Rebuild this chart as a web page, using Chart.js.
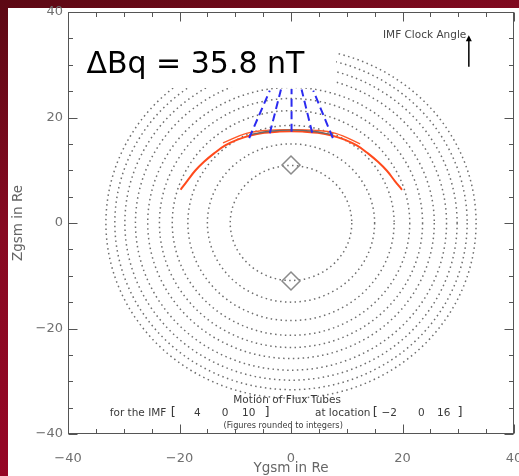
<!DOCTYPE html>
<html><head><meta charset="utf-8">
<script src="https://cdn.jsdelivr.net/npm/chart.js@4/dist/chart.umd.min.js"></script>
<style>
html,body{margin:0;padding:0;width:519px;height:476px;overflow:hidden}
body{background:linear-gradient(160deg,#5c0914 0%,#870a22 35%,#a10228 100%)}
#panel{position:absolute;left:8px;top:8px;width:511px;height:468px;background:#fff}
#wrap{position:absolute;left:0;top:0;width:519px;height:476px}
</style></head><body>
<div id="panel"></div>
<div id="wrap"><canvas id="c" width="519" height="476"></canvas></div>
<script>
// ---- data ----
const xTickValues = [-40, -20, 0, 20, 40];
const yTickValues = [-40, -20, 0, 20, 40];
const minorTickValues = [-35, -30, -25, -15, -10, -5, 5, 10, 15, 25, 30, 35];
const circleCenter = [0, 0];
const circleRadii = [10.9, 15.0, 18.5, 21.3, 23.6, 25.7, 27.9, 29.8, 31.6, 33.2];
const redCurveX = [-19.8, -18.6, -17.2, -15.6, -13.8, -11.8, -9.6, -7.3, -4.8, -2.4, 0, 2.4, 4.8, 7.3, 9.6, 11.8, 13.8, 15.6, 17.2, 18.6, 19.9];
const redCurveY = [6.3, 8.0, 9.9, 11.6, 13.2, 14.7, 15.8, 16.6, 17.1, 17.3, 17.4, 17.3, 17.1, 16.6, 15.8, 14.7, 13.2, 11.6, 9.9, 8.0, 6.3];
const redUpperX = [-12.2, -8.0, -4.0, 0.0, 4.0, 8.0, 12.4];
const redUpperY = [15.2, 17.0, 17.6, 17.7, 17.6, 17.0, 15.0];
const apexX = [-7.5, -3.8, 0.0, 3.9, 7.5];
const apexY = [16.7, 17.4, 17.6, 17.4, 16.7];
const flowStartX = [-7.5, -3.8, 0.1, 3.8, 7.5];
const flowStartY = [16.1, 17.0, 17.3, 17.1, 16.1];
const flowEndX = [-3.8, -1.8, 0.1, 1.9, 4.0];
const flowEndY = [25.1, 25.3, 25.4, 25.3, 25.1];
const diamondX = [0, 0];
const diamondY = [11, -11];
const deltaBq = '35.8';
const imfVector = ['4', '0', '10'];
const locationVector = ['\u22122', '0', '16'];

const pts = (xs, ys) => xs.map((v, i) => ({x: v, y: ys[i]}));

const datasets = [];
datasets.push({data: pts(diamondX, diamondY), showLine: false, pointStyle: 'rectRot', pointRadius: 9,
  pointBorderColor: '#8a8a8a', pointBackgroundColor: 'rgba(0,0,0,0)', pointBorderWidth: 1.5, order: 0});
flowStartX.forEach((_, i) => {
  datasets.push({data: [{x: flowStartX[i], y: flowStartY[i]}, {x: flowEndX[i], y: flowEndY[i]}],
    showLine: true, pointRadius: 0, borderColor: '#2b2bf0', borderWidth: 2, borderDash: [8, 4.5], order: 1});
});
datasets.push({data: pts(apexX, apexY), showLine: true, pointRadius: 0, borderColor: '#6a6a6a', borderWidth: 1.4, tension: 0.4, order: 2});
datasets.push({data: pts(redUpperX, redUpperY), showLine: true, pointRadius: 0, borderColor: '#ff5a2a', borderWidth: 1.4, tension: 0.4, order: 3});
datasets.push({data: pts(redCurveX, redCurveY), showLine: true, pointRadius: 0, borderColor: '#ff4a1c', borderWidth: 2, tension: 0.4, order: 4});

const overlay = {
  id: 'overlay',
  beforeDatasetsDraw(chart) {
    const {ctx, chartArea: a, scales: {x, y}} = chart;
    ctx.save();
    ctx.beginPath(); ctx.rect(a.left, a.top, a.right - a.left, a.bottom - a.top); ctx.clip();
    ctx.strokeStyle = '#6e6e6e'; ctx.lineWidth = 1.5; ctx.setLineDash([1.5, 3.4]);
    const cx = x.getPixelForValue(circleCenter[0]), cy = y.getPixelForValue(circleCenter[1]);
    circleRadii.forEach(r => {
      const rx = x.getPixelForValue(circleCenter[0] + r) - cx;
      const ry = cy - y.getPixelForValue(circleCenter[1] + r);
      ctx.beginPath(); ctx.ellipse(cx, cy, rx, ry, 0, 0, Math.PI * 2); ctx.stroke();
    });
    ctx.restore();
  },
  afterDatasetsDraw(chart) {
    const {ctx, scales: {x, y}} = chart;
    const X = v => x.getPixelForValue(v), Y = v => y.getPixelForValue(v);
    ctx.save();
    // white box behind the big label
    ctx.fillStyle = '#fff';
    ctx.fillRect(X(-37.8), Y(35.1), X(8.1) - X(-37.8), Y(25.6) - Y(35.1));
    ctx.fillStyle = '#000';
    ctx.font = '30px "DejaVu Sans"'; ctx.textBaseline = 'alphabetic'; ctx.textAlign = 'left';
    ctx.fillText('\u0394Bq = ' + deltaBq + ' nT', X(-36.7), Y(28.4));
    // IMF clock angle
    ctx.fillStyle = '#444'; ctx.font = '10.5px "DejaVu Sans"'; ctx.textBaseline = 'middle';
    ctx.fillText('IMF Clock Angle', X(16.5), Y(35.5));
    const ax = X(31.9), ay0 = Y(29.6), ay1 = Y(35.6);
    ctx.strokeStyle = '#000'; ctx.lineWidth = 1.5;
    ctx.beginPath(); ctx.moveTo(ax, ay0); ctx.lineTo(ax, ay1 + 4); ctx.stroke();
    ctx.fillStyle = '#000';
    ctx.beginPath(); ctx.moveTo(ax, ay1); ctx.lineTo(ax - 3, ay1 + 6); ctx.lineTo(ax + 3, ay1 + 6); ctx.closePath(); ctx.fill();
    // bottom annotation
    ctx.fillStyle = '#3a3a3a'; ctx.textBaseline = 'middle';
    ctx.font = '10.5px "DejaVu Sans"'; ctx.textAlign = 'center';
    ctx.fillText('Motion of Flux Tubes', X(-0.7), Y(-33.6));
    const rowY = Y(-36.0);
    ctx.textAlign = 'left';
    ctx.fillText('for the IMF', X(-32.5), rowY);
    ctx.fillText('at location', X(4.3), rowY);
    ctx.textAlign = 'center';
    ctx.fillText(imfVector[0], X(-16.8), rowY);
    ctx.fillText(imfVector[1], X(-11.8), rowY);
    ctx.fillText(imfVector[2], X(-7.6), rowY);
    ctx.fillText(locationVector[0], X(17.6), rowY);
    ctx.fillText(locationVector[1], X(23.4), rowY);
    ctx.fillText(locationVector[2], X(27.4), rowY);
    ctx.font = '13px "DejaVu Sans"';
    ctx.fillText('[', X(-21.1), rowY);
    ctx.fillText(']', X(-4.3), rowY);
    ctx.fillText('[', X(15.1), rowY);
    ctx.fillText(']', X(30.3), rowY);
    ctx.font = '8.2px "DejaVu Sans"';
    ctx.fillText('(Figures rounded to integers)', X(-1.4), Y(-38.5));
    ctx.restore();
  },
  afterDraw(chart) {
    const {ctx, chartArea: a, scales: {x, y}} = chart;
    ctx.save();
    ctx.strokeStyle = '#555'; ctx.lineWidth = 1;
    const L = Math.round(a.left) + 0.5, R = Math.round(a.right) - 0.5, T = Math.round(a.top) + 0.5, B = Math.round(a.bottom) - 0.5;
    ctx.strokeRect(L, T, R - L, B - T);
    const tick = (vals, len) => {
      vals.forEach(v => {
        const px = Math.round(x.getPixelForValue(v)) + 0.5;
        ctx.beginPath(); ctx.moveTo(px, B); ctx.lineTo(px, B - len); ctx.moveTo(px, T); ctx.lineTo(px, T + len); ctx.stroke();
      });
      vals.forEach(v => {
        const py = Math.round(y.getPixelForValue(v)) + 0.5;
        ctx.beginPath(); ctx.moveTo(L, py); ctx.lineTo(L + len, py); ctx.moveTo(R, py); ctx.lineTo(R - len, py); ctx.stroke();
      });
    };
    tick(xTickValues, 9);
    tick(minorTickValues, 4.5);
    ctx.restore();
  }
};

const minus = v => String(v).replace('-', '\u2212');

new Chart(document.getElementById('c'), {
  type: 'scatter',
  data: {datasets},
  plugins: [overlay],
  options: {
    responsive: false, animation: false, devicePixelRatio: 1,
    layout: {autoPadding: false, padding: {left: 0, top: 12, right: 5, bottom: 0}},
    plugins: {legend: {display: false}, tooltip: {enabled: false}},
    scales: {
      x: {
        type: 'linear', min: -40, max: 40,
        afterBuildTicks: s => { s.ticks = xTickValues.map(v => ({value: v})); },
        afterFit: s => { s.height = 42; s.paddingLeft = 0; s.paddingRight = 0; },
        grid: {display: false, drawTicks: false}, border: {display: false},
        ticks: {color: '#707070', font: {family: 'DejaVu Sans', size: 13}, padding: 17, maxRotation: 0, autoSkip: false, callback: v => minus(v)},
        title: {display: true, text: 'Ygsm in Re', color: '#666', font: {family: 'DejaVu Sans', size: 13.5}, padding: {top: 0, bottom: -1}}
      },
      y: {
        type: 'linear', min: -40, max: 40,
        afterBuildTicks: s => { s.ticks = yTickValues.map(v => ({value: v})); },
        afterFit: s => { s.width = 68; s.paddingTop = 0; s.paddingBottom = 0; },
        grid: {display: false, drawTicks: false}, border: {display: false},
        ticks: {color: '#707070', font: {family: 'DejaVu Sans', size: 13}, padding: 5, autoSkip: false, callback: v => minus(v)},
        title: {display: true, text: 'Zgsm in Re', color: '#666', font: {family: 'DejaVu Sans', size: 13.5}, padding: {top: 10, bottom: 0}}
      }
    }
  }
});
</script>
</body></html>
